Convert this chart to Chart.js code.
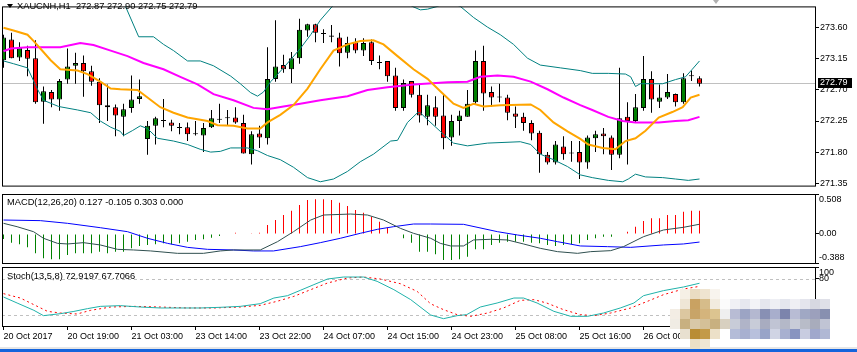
<!DOCTYPE html>
<html><head><meta charset="utf-8">
<script src="https://cdn.jsdelivr.net/npm/chart.js@4.4.1/dist/chart.umd.min.js"></script>
<style>
html,body{margin:0;padding:0;background:#fff;}
body{width:857px;height:352px;position:relative;overflow:hidden;font-family:"Liberation Sans",Arial,sans-serif;}
canvas{position:absolute;left:0;}
.lbl{position:absolute;font-size:9.3px;line-height:9px;white-space:pre;color:#000;}
.tri{position:absolute;width:0;height:0;border-left:3px solid transparent;border-right:3px solid transparent;}
#mosaic div{position:absolute;width:10px;height:10px;}
</style></head><body>
<canvas id="cMain" width="857" height="193" style="top:0px"></canvas>
<canvas id="cMacd" width="857" height="71" style="top:193px"></canvas>
<canvas id="cStoch" width="857" height="82" style="top:265px"></canvas>
<div class="tri" style="left:7px;top:4px;border-top:4px solid #000"></div>
<div class="tri" style="left:713px;top:0px;border-top:4px solid #b0b0b0"></div>
<div class="lbl" style="left:17px;top:1.6px">XAUCNH,H1  272.87 272.90 272.75 272.79</div>
<div class="lbl" style="left:7px;top:198.4px">MACD(12,26,20) 0.127 -0.105 0.303 0.000</div>
<div class="lbl" style="left:7px;top:271.6px">Stoch(13,5,8) 72.9197 67.7066</div>
<div style="position:absolute;left:0;top:347px;width:857px;height:2px;background:#e6e6e6"></div>
<div style="position:absolute;left:0;top:349px;width:857px;height:3px;background:#1464dc"></div>
<div id="mosaic"></div>
<script>
// ---- data ----
const timeTickIndex = [0, 8, 16, 24, 32, 40, 48, 56, 64, 72, 80];
const timeTickLabels = ['20 Oct 2017','20 Oct 19:00','21 Oct 03:00','23 Oct 14:00','23 Oct 22:00','24 Oct 07:00','24 Oct 15:00','24 Oct 23:00','25 Oct 08:00','25 Oct 16:00','26 Oct 00:00'];
const priceTicks = [273.60, 273.15, 272.70, 272.25, 271.80, 271.35];
const macdTicks = [0.508, 0.00, -0.388];
const macdTickLabels = ['0.508', '0.00', '-0.388'];
const stochTicks = [100, 80];
const stochLevels = [80, 20];

const openP = [273.13,273.43,273.17,273.28,273.16,272.53,272.67,272.56,272.85,273.05,
273.09,272.97,272.82,272.48,272.45,272.31,272.44,272.57,271.99,272.18,
272.25,272.23,272.15,272.16,272.06,272.04,272.16,272.27,272.29,272.30,
272.22,271.77,272.07,272.00,272.86,273.06,273.00,273.16,273.56,273.65,
273.51,273.49,273.46,273.24,273.39,273.27,273.39,273.09,273.12,272.91,
272.44,272.83,272.63,272.31,272.45,272.33,272.01,272.25,272.31,272.52,
273.12,272.67,272.59,272.59,272.36,272.31,272.22,272.08,271.76,271.65,
271.88,271.78,271.80,271.65,272.00,272.07,272.01,271.76,272.31,272.25,
272.44,272.86,272.53,272.59,272.64,272.52,272.90,272.87];
const highP = [273.50,273.53,273.39,273.34,273.42,272.75,272.70,272.86,273.30,273.24,
273.20,273.05,272.87,272.78,272.49,272.50,272.91,272.85,272.25,272.31,
272.57,272.27,272.22,272.23,272.25,272.22,272.41,272.50,272.41,272.45,
272.34,272.10,272.18,273.32,273.71,273.21,273.25,273.73,273.66,273.66,
273.58,273.64,273.53,273.47,273.45,273.45,273.43,273.20,273.12,273.02,
272.85,272.83,272.79,272.63,272.61,272.63,272.34,272.40,272.70,273.27,
273.34,272.75,272.79,272.63,272.46,272.37,272.26,272.11,271.80,271.96,
272.03,271.96,271.96,272.04,272.11,272.15,272.04,273.02,272.52,272.64,
273.19,272.97,272.78,272.93,272.65,272.94,272.98,272.90];
const lowP = [273.02,273.16,273.12,272.90,272.50,272.21,272.45,272.40,272.79,272.79,
272.60,272.76,272.22,272.25,272.03,272.03,272.37,272.50,271.76,271.91,
272.16,272.10,272.06,271.96,272.04,271.80,272.15,272.22,272.18,272.21,
271.78,271.62,271.86,271.91,272.82,272.95,272.80,273.08,273.47,273.39,
273.38,273.39,273.04,273.16,273.23,273.19,273.06,273.00,272.82,272.40,
272.40,272.59,272.23,272.19,272.18,271.84,271.89,272.04,272.31,272.50,
272.40,272.46,272.52,272.26,272.15,272.11,271.97,271.50,271.62,271.62,
271.69,271.66,271.41,271.56,271.80,271.77,271.54,271.71,271.62,272.22,
272.40,272.37,272.44,272.57,272.46,272.50,272.83,272.75];
const closeP = [273.46,273.16,273.31,273.15,272.52,272.68,272.56,272.83,273.04,273.09,
272.97,272.82,272.48,272.45,272.33,272.42,272.56,272.61,272.18,272.29,
272.25,272.18,272.15,272.06,272.06,272.15,272.29,272.27,272.29,272.23,
271.78,272.06,272.01,272.86,273.04,273.00,273.16,273.57,273.65,273.53,
273.51,273.47,273.23,273.38,273.27,273.38,273.12,273.09,272.90,272.44,
272.80,272.63,272.33,272.48,272.31,272.00,272.25,272.33,272.50,273.12,
272.65,272.59,272.59,272.37,272.31,272.22,272.07,271.77,271.65,271.91,
271.77,271.78,271.65,272.01,272.06,272.03,271.76,272.29,272.25,272.45,
272.86,272.56,272.59,272.67,272.52,272.87,272.90,272.79];

const maFast = [[0,273.60],[1.25,273.56],[3,273.50],[3.75,273.41],[4.6,273.30],[5.9,273.13],[7.1,273.00],[9.25,272.98],[10.5,272.93],[12.1,272.82],[13.4,272.72],[14.6,272.71],[16.75,272.70],[18,272.59],[19.6,272.45],[21.25,272.37],[23,272.30],[25.5,272.25],[26.75,272.19],[28.75,272.18],[30.5,272.14],[32.1,272.14],[33,272.23],[34.6,272.34],[36.25,272.48],[38,272.72],[39.6,273.00],[41.25,273.27],[43,273.36],[44.6,273.41],[46.25,273.42],[47.5,273.36],[49.25,273.19],[51.25,273.00],[53,272.86],[54.6,272.68],[56.25,272.50],[57.5,272.44],[58.75,272.50],[60,272.46],[62.1,272.48],[65.9,272.49],[67.1,272.41],[68.75,272.23],[70.5,272.10],[72.1,271.99],[73.1,271.91],[74.9,271.86],[76.5,271.84],[77.75,271.96],[79,272.00],[80.25,272.11],[81.9,272.30],[83.6,272.38],[84.9,272.45],[85.9,272.59],[87,272.63]];
const maSlow = [[0,273.26],[0.9,273.30],[3,273.32],[7.1,273.32],[9.6,273.38],[11.25,273.35],[13.4,273.27],[15.5,273.19],[17.5,273.09],[20,273.00],[22.1,272.89],[24.25,272.78],[26.25,272.64],[28.75,272.55],[31.25,272.44],[33,272.42],[35,272.46],[37.1,272.50],[39.6,272.55],[43,272.61],[45.5,272.70],[48,272.74],[51.25,272.78],[55.5,272.81],[58,272.82],[59.6,272.89],[61.75,272.91],[63.75,272.89],[65.9,272.82],[68,272.71],[70,272.59],[72.1,272.48],[73.6,272.41],[75.6,272.31],[77.4,272.25],[79,272.23],[81.9,272.23],[84,272.25],[85.6,272.26],[87,272.31]];
const bandUpper = [[0,274.52],[7.1,274.46],[13.4,274.18],[15.25,273.91],[16.9,273.47],[18.75,273.47],[20,273.36],[21.25,273.27],[23,273.12],[24.6,273.12],[26.25,273.05],[28.4,272.90],[29.6,272.79],[30.9,272.66],[31.75,272.61],[32.5,272.67],[33.4,272.82],[35,273.02],[37.1,273.30],[38.4,273.50],[39.6,273.71],[41.1,273.91],[44.6,274.25],[48.4,274.11],[51.1,273.91],[52.1,273.86],[53,273.87],[54.25,273.91],[55.5,273.98],[57.1,273.91],[58.75,273.75],[60.5,273.61],[62.1,273.50],[63.75,273.36],[65.5,273.16],[67.1,273.06],[69.6,273.02],[72.1,272.98],[73.6,272.94],[75.6,272.94],[77.75,272.93],[78.4,272.89],[79,272.75],[79.6,272.79],[82.4,272.79],[84,272.85],[85.25,272.89],[86.1,273.00],[87,273.12]];
const bandLower = [[0,273.12],[1.25,273.08],[3,273.02],[4.25,272.71],[5,272.55],[6.9,272.46],[9.25,272.41],[10.9,272.37],[12.1,272.25],[13.4,272.16],[14.6,272.10],[15,272.04],[16.1,272.11],[17.1,272.18],[18,272.14],[19.25,272.00],[21.25,271.96],[23,271.91],[24.6,271.84],[25.9,271.80],[27.1,271.81],[28.4,271.86],[30.5,271.86],[31.75,271.82],[33,271.75],[34.6,271.69],[36.25,271.58],[38,271.43],[39.6,271.37],[41.25,271.41],[43,271.52],[44.6,271.66],[46.25,271.77],[48.4,271.96],[49.25,271.97],[50.5,272.23],[51.75,272.37],[52.1,272.37],[53,272.27],[54.6,272.10],[56.25,271.93],[58,271.89],[60.5,271.93],[64.6,271.95],[65.9,271.91],[67.1,271.77],[68.75,271.69],[70.5,271.59],[72.1,271.47],[73.6,271.43],[75.6,271.39],[77.4,271.37],[78.1,271.41],[79,271.48],[80.25,271.44],[82.4,271.43],[84,271.41],[85.6,271.39],[87,271.41]];

const macdHist = [-0.065,-0.113,-0.135,-0.174,-0.252,-0.317,-0.330,-0.330,-0.273,-0.252,
-0.252,-0.252,-0.230,-0.252,-0.230,-0.230,-0.187,-0.156,-0.143,-0.135,
-0.122,-0.135,-0.122,-0.100,-0.078,-0.069,-0.048,-0.026,0,0.017,
0,0.009,0.017,0.117,0.182,0.247,0.304,0.378,0.443,0.451,
0.451,0.443,0.408,0.365,0.313,0.278,0.226,0.161,0.082,0,
-0.056,-0.113,-0.230,-0.230,-0.265,-0.339,-0.339,-0.330,-0.295,-0.200,
-0.200,-0.143,-0.113,-0.100,-0.100,-0.100,-0.113,-0.122,-0.143,-0.156,
-0.143,-0.135,-0.122,-0.078,-0.056,-0.035,-0.035,0,0.030,0.095,
0.169,0.204,0.204,0.247,0.247,0.291,0.304,0.303];
const macdMain = [[0,0.139],[1.7,0.095],[3.75,0.030],[5,-0.056],[6.75,-0.122],[8,-0.130],[10,-0.113],[12.1,-0.143],[14.25,-0.200],[16.25,-0.208],[18.4,-0.221],[21.75,-0.252],[25,-0.252],[27.1,-0.221],[28.75,-0.208],[32.1,-0.208],[34.25,-0.100],[36.25,0.030],[38.4,0.182],[40,0.247],[43.4,0.260],[45.5,0.247],[47.5,0.182],[49.6,0.074],[51.25,0.009],[53.4,-0.056],[54.6,-0.122],[55.9,-0.156],[57.5,-0.156],[58.75,-0.078],[60.9,-0.069],[63,-0.078],[65,-0.130],[67.1,-0.187],[69.25,-0.230],[71.75,-0.252],[73.4,-0.230],[75.9,-0.217],[77.5,-0.165],[80,-0.035],[82.5,0.052],[85,0.087],[87,0.127]];
const macdSignal = [[0,0.182],[4.6,0.174],[8,0.139],[12.1,0.082],[15.5,0.030],[18,-0.056],[20.5,-0.122],[23,-0.174],[25.5,-0.200],[28.75,-0.208],[31.25,-0.221],[33.75,-0.221],[37.1,-0.165],[39.6,-0.113],[42.1,-0.056],[44.6,0.009],[46.75,0.061],[48.75,0.095],[51.25,0.130],[53.4,0.130],[57.5,0.126],[61.75,0.030],[64.25,-0.013],[67.1,-0.056],[69.25,-0.100],[72.1,-0.156],[75.5,-0.165],[78.4,-0.174],[82.5,-0.143],[85,-0.130],[87,-0.105]];

const stochMain = [[0,50],[1.7,40],[3.8,27.8],[5,18.9],[7.1,22.2],[8.8,26],[10.5,30.6],[12.1,34.4],[14.6,35.6],[17.1,33.3],[19.6,31.7],[22.1,31.7],[24.6,31.7],[27.1,32.8],[29.6,34.4],[32.1,38.9],[33.8,48.3],[35.5,52.2],[37.1,61.1],[38.8,70.6],[40.5,80],[42.5,83.3],[45,83.3],[46.7,76.1],[48.8,62.2],[50.9,45.6],[53.4,20],[55,13.9],[56.7,18.9],[57.9,20.6],[59.6,33.3],[61.7,40],[63.8,48.3],[65,48.3],[66.7,40],[68.8,26.1],[70.9,17.8],[73,17.8],[75,23.3],[77.1,31.7],[78.8,40],[80,52.2],[82.5,60.6],[85,66.7],[87,72.92]];
const stochSignal = [[0,55.6],[2.1,48.3],[3.8,37.2],[5.5,26.1],[7.1,23.3],[9.2,21.7],[10.9,27.8],[13.4,33.3],[16.3,34.4],[19.6,33.3],[22.9,31.7],[26.3,31.7],[29.6,33.3],[32.1,36.1],[34.2,42.8],[36.3,51.1],[38.4,62.2],[40.5,73.3],[43,81.7],[45,83.3],[47.1,80],[49.6,72.2],[51.7,59.4],[53.4,38.6],[55,28.9],[56.7,20.6],[58.4,17.8],[60.5,23.3],[62.5,31.7],[64.6,44.4],[66.3,45.6],[67.9,40],[70,28.9],[72.1,20.6],[73.8,18.9],[75.9,23.3],[78.4,31.7],[80.5,42.8],[82.5,53.9],[85,63.3],[87,67.71]];

// ---- decoration: pixelated watermark ----
const mosaicRows = [
 {y:289, x:680, c:['#f6f0e6','#eadcc2','#efe4d0','#f8f4ee']},
 {y:299, x:680, c:['#efe6d6','#c9a262','#d6bc8a','#f2ebdf','#fbfbfb','#f0f0f5','#e6e7ef','#f3f3f7','#e5e6ee','#eeeff4','#e4e6ee','#efeff4','#e4e5ed','#d7d8e1','#dfe0e8']},
 {y:309, x:670, c:['#f3ede4','#dcc7a0','#c8a468','#d4b47c','#dcc490','#efefef','#b8bcd4','#9ca4c4','#b4b8d0','#8890b4','#a8aecc','#7c84ac','#b8bcd4','#a0a8c4','#9ca0bc','#8890b0']},
 {y:319, x:670, c:['#f0ece4','#c8b080','#d8c8a8','#d4c098','#c8b080','#d8d0c0','#c8ccd8','#b0b4c8','#c8ccd8','#a8acc0','#c0c4d4','#b4b8c8','#c8ccd8','#b8bcc8','#a8acbc','#c0c4d4']},
 {y:329, x:680, c:['#e8e0d0','#b98d35','#c39a48','#ece0c8','#ffffff','#b4bcd8','#a8b0d0','#b8c0dc','#98a4c8','#d0d4e4','#a8b0d0','#8894c0','#c8cce0','#a0a8cc','#b0b8d4']},
 {y:339, x:690, c:['#eadfc6','#efe6d4']}
];

// ---- charts ----
const FAMILY = '"Liberation Sans", Arial, sans-serif';
Chart.defaults.font.family = FAMILY;
Chart.defaults.font.size = 9;
Chart.defaults.color = '#000';
const X_MIN = -0.1875, X_MAX = 101.5625;
const xy = arr => arr.map(p => ({x: p[0], y: p[1]}));
const idx = openP.map((_, i) => i);

function lineDs(data, color, width, dash) {
  return {type: 'line', data: xy(data), borderColor: color, borderWidth: width, borderDash: dash || [],
          pointRadius: 0, tension: 0, fill: false, order: 0};
}
const paneBorder = {id: 'paneBorder', afterDraw(chart) {
  const {ctx, chartArea: a} = chart;
  ctx.save(); ctx.strokeStyle = '#000'; ctx.lineWidth = 1;
  ctx.strokeRect(a.left + 0.5, a.top + 0.5, a.right - a.left - 1, a.bottom - a.top - 1);
  ctx.restore();
}};
function sideLabels(values, labels) {
  return {id: 'sideLabels', afterDraw(chart) {
    const {ctx, chartArea: a, scales: {y}} = chart;
    ctx.save(); ctx.font = '9px ' + FAMILY; ctx.fillStyle = '#000';
    ctx.textBaseline = 'middle'; ctx.textAlign = 'left';
    values.forEach((v, k) => {
      let py = y.getPixelForValue(v);
      py = Math.min(Math.max(py, a.top + 6), a.bottom - 6);
      ctx.fillText(labels[k], a.right + 3, py);
    });
    ctx.restore();
  }};
}
const xScale = (extra) => Object.assign({type: 'linear', min: X_MIN, max: X_MAX, offset: false,
  bounds: 'data', grid: {offset: false}}, extra || {});
const yRightCommon = (min, max, ticks, showLabels) => ({
  position: 'right', min, max,
  afterFit(s) { s.width = 41; },
  afterBuildTicks(s) { s.ticks = ticks.map(v => ({value: v})); },
  ticks: {display: showLabels, padding: 1, color: '#000', font: {size: 9, family: FAMILY},
          callback: v => Number(v).toFixed(2)},
  grid: {drawOnChartArea: false, drawTicks: true, tickLength: 3, color: '#000'},
  border: {display: false}
});
const baseOpts = (padding) => ({
  responsive: false, animation: false, events: [],
  layout: {padding},
  plugins: {legend: {display: false}, tooltip: {enabled: false}}
});

// main price pane
const lastPrice = {id: 'lastPrice',
  beforeDatasetsDraw(chart) {
    const {ctx, chartArea: a, scales: {y}} = chart;
    const py = Math.round(y.getPixelForValue(closeP[closeP.length - 1])) - 0.5;
    ctx.save(); ctx.strokeStyle = '#c0c0c0'; ctx.lineWidth = 1;
    ctx.beginPath(); ctx.moveTo(a.left, py); ctx.lineTo(a.right, py); ctx.stroke(); ctx.restore();
  },
  afterDraw(chart) {
    const {ctx, chartArea: a, scales: {y}} = chart;
    const v = closeP[closeP.length - 1];
    const py = Math.round(y.getPixelForValue(v));
    ctx.save(); ctx.fillStyle = '#000';
    ctx.fillRect(a.right + 2, py - 6, 34, 10);
    ctx.fillStyle = '#fff'; ctx.font = '9px ' + FAMILY; ctx.textBaseline = 'middle'; ctx.textAlign = 'left';
    ctx.fillText(v.toFixed(2), a.right + 4, py - 1);
    ctx.restore();
  }};
const bodyColor = idx.map(i => closeP[i] > openP[i] ? '#008000' : (closeP[i] < openP[i] ? '#ff0000' : '#000000'));
new Chart(document.getElementById('cMain'), {
  type: 'bar',
  data: {datasets: [
    lineDs(maFast, '#ffa500', 2),
    lineDs(maSlow, '#ff00ff', 2),
    lineDs(bandUpper, '#008080', 1),
    lineDs(bandLower, '#008080', 1),
    {type: 'bar', data: idx.map(i => ({x: i, y: [openP[i], closeP[i]]})), backgroundColor: bodyColor,
     borderColor: '#000', borderWidth: 1, borderSkipped: false, barThickness: 5, minBarLength: 1,
     grouped: false, inflateAmount: 0, order: 1},
    {type: 'bar', data: idx.map(i => ({x: i, y: [lowP[i], highP[i]]})), backgroundColor: '#000',
     borderWidth: 0, barThickness: 1, grouped: false, inflateAmount: 0, order: 2}
  ]},
  options: Object.assign(baseOpts({left: 2, top: 0, right: 0, bottom: 2}), {
    scales: {
      x: xScale({display: false}),
      y: yRightCommon(271.30, 273.91, priceTicks, true)
    }
  }),
  plugins: [lastPrice, paneBorder]
});

// MACD pane
new Chart(document.getElementById('cMacd'), {
  type: 'bar',
  data: {datasets: [
    lineDs(macdMain, '#2f4f4f', 1),
    lineDs(macdSignal, '#0000ff', 1),
    {type: 'bar', data: idx.map(i => ({x: i, y: macdHist[i]})),
     backgroundColor: macdHist.map(v => v >= 0 ? '#ff0000' : '#008000'),
     borderWidth: 0, barThickness: 1, grouped: false, inflateAmount: 0, order: 1}
  ]},
  options: Object.assign(baseOpts({left: 2, top: 1, right: 0, bottom: 0}), {
    scales: {
      x: xScale({display: false}),
      y: yRightCommon(-0.391, 0.521, macdTicks, false)
    }
  }),
  plugins: [paneBorder, sideLabels(macdTicks, macdTickLabels)]
});

// Stochastic pane
const levels = {id: 'levels', beforeDatasetsDraw(chart) {
  const {ctx, chartArea: a, scales: {y}} = chart;
  ctx.save(); ctx.strokeStyle = '#c0c0c0'; ctx.lineWidth = 1; ctx.setLineDash([3, 3]);
  stochLevels.forEach(l => {
    const py = Math.round(y.getPixelForValue(l)) + 0.5;
    ctx.beginPath(); ctx.moveTo(a.left, py); ctx.lineTo(a.right, py); ctx.stroke();
  });
  ctx.restore();
}};
new Chart(document.getElementById('cStoch'), {
  type: 'line',
  data: {datasets: [
    lineDs(stochMain, '#20b2aa', 1),
    lineDs(stochSignal, '#ff0000', 1, [2, 3])
  ]},
  options: Object.assign(baseOpts({left: 2, top: 2, right: 0, bottom: 0}), {
    scales: {
      x: xScale({position: 'bottom',
          afterFit(s) { s.height = 20; },
          afterBuildTicks(s) { s.ticks = timeTickIndex.map(v => ({value: v})); },
          ticks: {align: 'start', autoSkip: false, maxRotation: 0, padding: 1, color: '#000',
                  font: {size: 9, family: FAMILY},
                  callback: v => timeTickLabels[timeTickIndex.indexOf(v)]},
          grid: {offset: false, drawOnChartArea: false, drawTicks: true, tickLength: 3, color: '#000'},
          border: {display: false}}),
      y: yRightCommon(0, 100, stochTicks, false)
    }
  }),
  plugins: [levels, paneBorder, sideLabels(stochTicks, stochTicks.map(String))]
});

// watermark mosaic
const mz = document.getElementById('mosaic');
mosaicRows.forEach(r => r.c.forEach((col, k) => {
  const d = document.createElement('div');
  d.style.left = (r.x + 10 * k) + 'px'; d.style.top = r.y + 'px'; d.style.background = col;
  mz.appendChild(d);
}));
</script>
</body></html>
